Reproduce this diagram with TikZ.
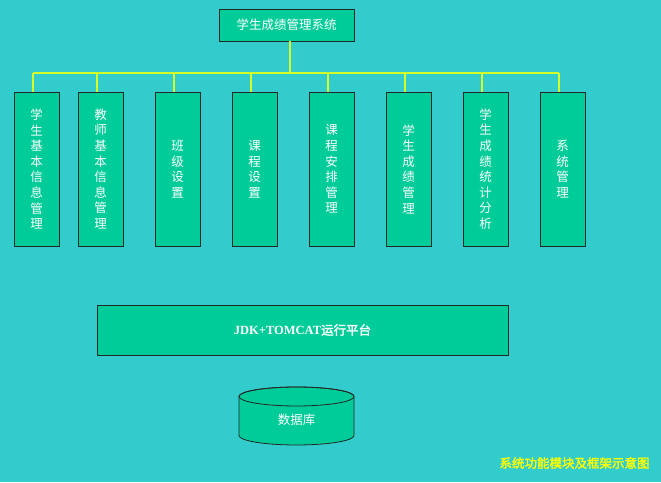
\documentclass[tikz,border=0pt]{standalone}
\usepackage{fontspec}
\setmainfont{Liberation Serif}
\newfontfamily\cjk[AutoFakeBold=2]{Noto Sans CJK SC}
\usetikzlibrary{calc}

\definecolor{bgteal}{RGB}{51,204,204}
\definecolor{boxgreen}{RGB}{0,204,153}
\definecolor{buslime}{RGB}{210,255,40}
\definecolor{capyellow}{RGB}{255,255,0}

\begin{document}
\begin{tikzpicture}[x=1pt,y=1pt]
	\tikzset{
		box/.style={draw=black!85, fill=boxgreen, line width=0.8pt, text=white, inner sep=0pt},
		module/.style={box, minimum width=45pt, minimum height=154pt, align=center,
			font=\cjk\fontsize{12.5}{15.6}\selectfont},
		bus/.style={draw=buslime, line width=1.1pt}
	}
	
	% Background and page size
	\fill[bgteal] (0,0) rectangle (661,482);
	\useasboundingbox (0,0) rectangle (661,482);
	
	% Height of the bus line
	\def\busy{409}
	
	% Top box
	\node[box, minimum width=135pt, minimum height=32pt, font=\cjk\fontsize{12.5}{15}\selectfont] (sys) at (286.5,457) {学生成绩管理系统};
	
	% Module boxes
	\foreach \name/\x/\txt in {
		m1/36.5/{学\\生\\基\\本\\信\\息\\管\\理},
		m2/100.5/{教\\师\\基\\本\\信\\息\\管\\理},
		m3/177.5/{班\\级\\设\\置},
		m4/254.5/{课\\程\\设\\置},
		m5/331.5/{课\\程\\安\\排\\管\\理},
		m6/408.5/{学\\生\\成\\绩\\管\\理},
		m7/485.5/{学\\生\\成\\绩\\统\\计\\分\\析},
		m8/562.5/{系\\统\\管\\理}}
	{
		\node[module] (\name) at (\x,313) {\txt};
	}
	
	% Bus line and drops
	\coordinate (busL) at ([xshift=-3.5pt]m1.north |- 0,\busy);
	\coordinate (busR) at ([xshift=-3.5pt]m8.north |- 0,\busy);
	\draw[bus] (busL) -- (busR);
	\draw[bus] ([xshift=3.5pt]sys.south) -- ([xshift=3.5pt]sys.south |- busL);
	\foreach \i in {1,...,8}
	{
		\draw[bus] ([xshift=-3.5pt]m\i.north) -- ([xshift=-3.5pt]m\i.north |- busL);
	}
	
	% Platform
	\node[box, minimum width=411pt, minimum height=50pt, font=\fontsize{12.5}{15}\selectfont\bfseries] (jdk) at (302.5,152) {JDK+TOMCAT{\cjk\bfseries 运行平台}};
	
	% Database cylinder
	\filldraw[fill=boxgreen, draw=black!85, line width=0.8pt] (239,85.5) -- (239,46.5)
		arc[start angle=180, end angle=360, x radius=57.5, y radius=9.5] -- (354,85.5)
		arc[start angle=0, end angle=180, x radius=57.5, y radius=9.5] -- cycle;
	\draw[draw=black!85, line width=0.8pt] (296.5,85.5) ellipse [x radius=57.5, y radius=9.5];
	\node[text=white, font=\cjk\fontsize{12.5}{15}\selectfont] (db) at (296.5,62) {数据库};
	
	% Caption
	\node[text=capyellow, font=\cjk\bfseries\fontsize{12.5}{15}\selectfont] (cap) at (574.5,19) {系统功能模块及框架示意图};
\end{tikzpicture}
\end{document}
